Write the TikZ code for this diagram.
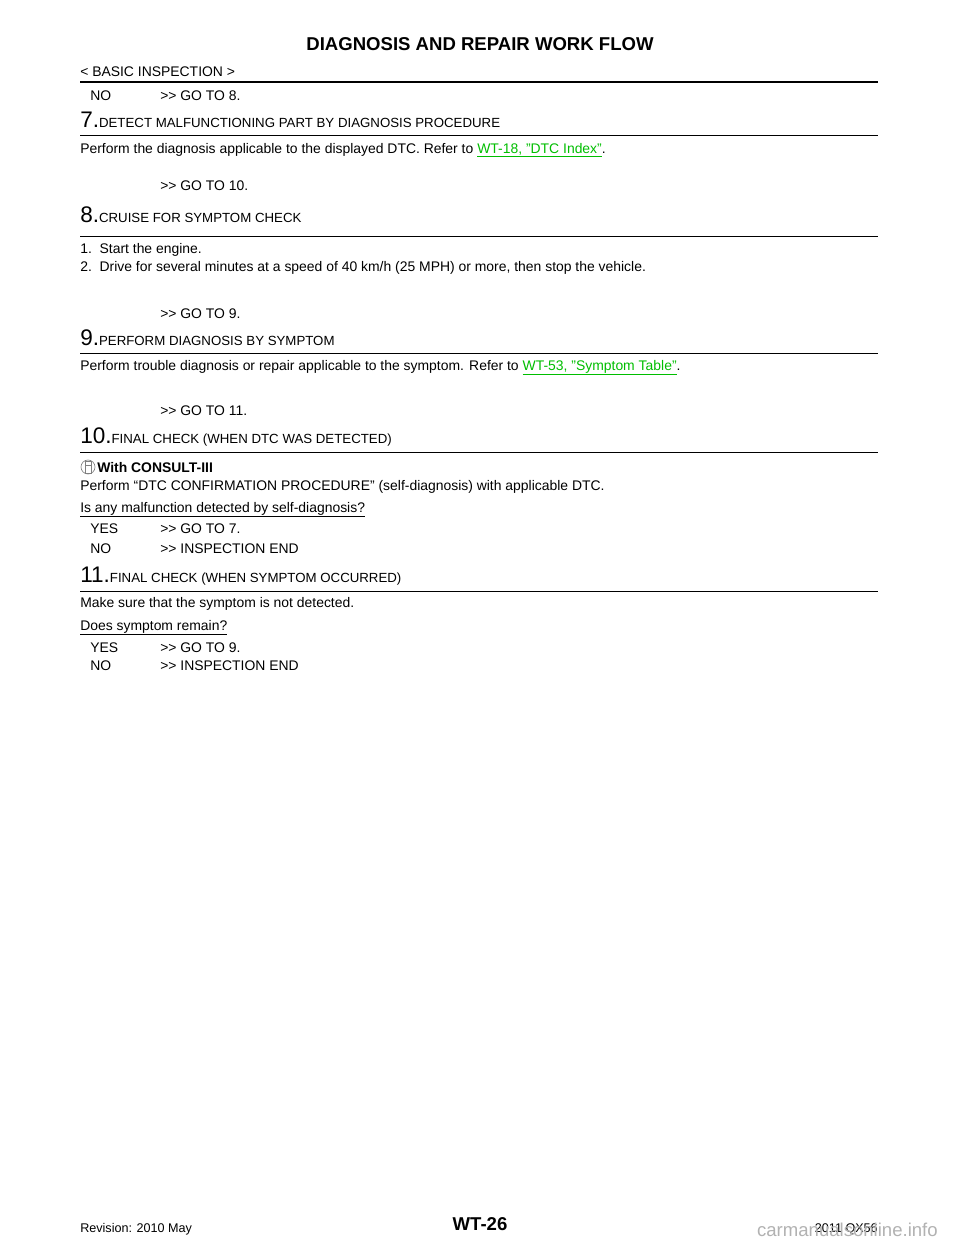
\documentclass[tikz,border=0pt]{standalone}
\usepackage{fontspec}
\setmainfont{Liberation Sans}
\usepackage{xcolor}
\definecolor{linkgreen}{RGB}{0,190,0}
\newcommand{\stepno}[2]{{\fontsize{17}{17}\selectfont #1.}{\fontsize{10}{12}\selectfont #2}}
\newcommand{\wlink}[1]{\textcolor{linkgreen}{\underline{#1}}}
\newcommand{\qt}{\symbol{34}}
\newcommand{\gt}{{>}{>}}
\begin{document}
\begin{tikzpicture}[
    x=0.0265cm, y=-0.0265cm,
    txt/.style={anchor=base west, inner sep=0pt, font=\fontsize{10.5}{12}\selectfont},
    head/.style={anchor=base west, inner sep=0pt},
    rule/.style={line width=0.6pt},
    thickrule/.style={line width=1.6pt}
]
    \useasboundingbox[fill=white] (0,0) rectangle (960,1242);

    % Header
    \node [anchor=base, inner sep=0pt, font=\fontsize{14}{16}\selectfont\bfseries] (title) at (480,50) {DIAGNOSIS AND REPAIR WORK FLOW};
    \node [txt] (sect) at (80,76) {< BASIC INSPECTION >};
    \draw [thickrule] (80,82) -- (878,82);
    \node [txt] (no6) at (90,100) {NO};
    \node [txt] (go8) at (160,100) {\gt{} GO TO 8.};

    % Step 7
    \node [head] (s7) at (80,127) {\stepno{7}{DETECT MALFUNCTIONING PART BY DIAGNOSIS PROCEDURE}};
    \draw [rule] (80,135) -- (878,135);
    \node [txt] (p7) at (80,153) {Perform the diagnosis applicable to the displayed DTC. Refer to \wlink{WT-18, \qt DTC Index\qt}.};
    \node [txt] (go10) at (160,190) {\gt{} GO TO 10.};

    % Step 8
    \node [head] (s8) at (80,222) {\stepno{8}{CRUISE FOR SYMPTOM CHECK}};
    \draw [rule] (80,236) -- (878,236);
    \node [txt] (p8a) at (80,253) {1.\ \ Start the engine.};
    \node [txt] (p8b) at (80,271) {2.\ \ Drive for several minutes at a speed of 40 km/h (25 MPH) or more, then stop the vehicle.};
    \node [txt] (go9) at (160,318) {\gt{} GO TO 9.};

    % Step 9
    \node [head] (s9) at (80,345) {\stepno{9}{PERFORM DIAGNOSIS BY SYMPTOM}};
    \draw [rule] (80,353) -- (878,353);
    \node [txt] (p9) at (80,370) {Perform trouble diagnosis or repair applicable to the symptom. Refer to \wlink{WT-53, \qt Symptom Table\qt}.};
    \node [txt] (go11) at (160,415) {\gt{} GO TO 11.};

    % Step 10
    \node [head] (s10) at (80,443) {\stepno{10}{FINAL CHECK (WHEN DTC WAS DETECTED)}};
    \draw [rule] (80,452) -- (878,452);
    \draw [gray, line width=0.5pt] (88,467) circle (7);
    \draw [gray, line width=0.5pt] (85,461) rectangle (91,473) (85,465) -- (91,465);
    \node [txt] (w10) at (97,472) {\textbf{With CONSULT-III}};
    \node [txt] (p10) at (80,490) {Perform “DTC CONFIRMATION PROCEDURE” (self-diagnosis) with applicable DTC.};
    \node [txt] (q10) at (80,512) {\underline{Is any malfunction detected by self-diagnosis?}};
    \node [txt] (y10) at (90,533) {YES};
    \node [txt] (y10g) at (160,533) {\gt{} GO TO 7.};
    \node [txt] (n10) at (90,553) {NO};
    \node [txt] (n10g) at (160,553) {\gt{} INSPECTION END};

    % Step 11
    \node [head] (s11) at (80,582) {\stepno{11}{FINAL CHECK (WHEN SYMPTOM OCCURRED)}};
    \draw [rule] (80,591) -- (878,591);
    \node [txt] (p11) at (80,607) {Make sure that the symptom is not detected.};
    \node [txt] (q11) at (80,630) {\underline{Does symptom remain?}};
    \node [txt] (y11) at (90,652) {YES};
    \node [txt] (y11g) at (160,652) {\gt{} GO TO 9.};
    \node [txt] (n11) at (90,670) {NO};
    \node [txt] (n11g) at (160,670) {\gt{} INSPECTION END};

    % Footer
    \node [txt, font=\fontsize{9.5}{11}\selectfont] (rev) at (80,1232) {Revision: 2010 May};
    \node [anchor=base, inner sep=0pt, font=\fontsize{14}{16}\selectfont\bfseries] (page) at (480,1230) {WT-26};
    \node [anchor=base east, inner sep=0pt, font=\fontsize{9.5}{11}\selectfont] (model) at (878,1232) {2011 QX56};
    \node [anchor=base east, inner sep=0pt, text=gray!60, font=\fontsize{14}{16}\selectfont] (mark) at (938,1236) {carmanualsonline.info};
\end{tikzpicture}
\end{document}
